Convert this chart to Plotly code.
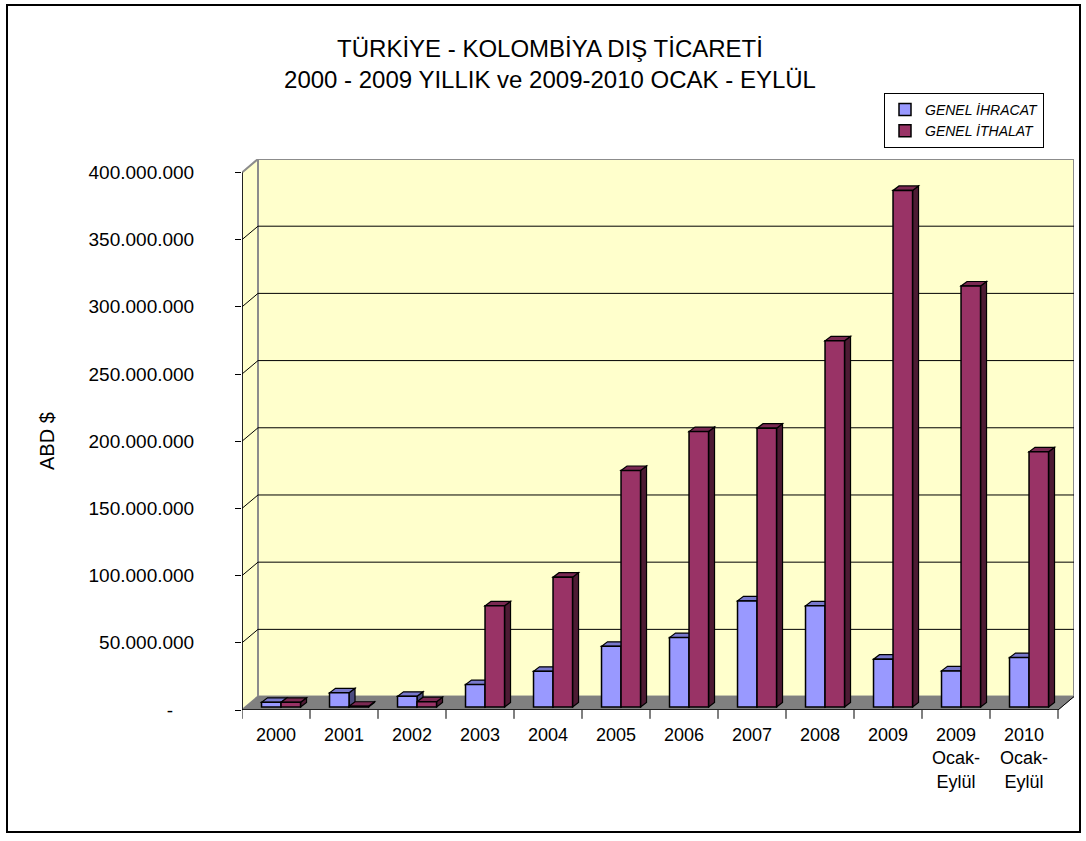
import plotly.graph_objects as go

# ---------------- data ----------------
categories = ["2000", "2001", "2002", "2003", "2004", "2005", "2006", "2007",
              "2008", "2009", "2009<br>Ocak-<br>Eylül", "2010<br>Ocak-<br>Eylül"]
ihracat = [3.5e6, 10.6e6, 8.0e6, 16.7e6, 26.6e6, 45.2e6, 51.7e6, 79.0e6,
           75.3e6, 35.6e6, 26.9e6, 36.8e6]
ithalat = [3.5e6, 0.6e6, 4.0e6, 75.3e6, 96.6e6, 176.0e6, 205.0e6, 207.5e6,
           272.5e6, 384.4e6, 313.3e6, 189.9e6]
series_names = ["GENEL İHRACAT", "GENEL İTHALAT"]
tick_values = [0, 50e6, 100e6, 150e6, 200e6, 250e6, 300e6, 350e6, 400e6]
tick_labels = ["-\u00a0\u00a0\u00a0\u00a0", "50.000.000", "100.000.000", "150.000.000",
               "200.000.000", "250.000.000", "300.000.000", "350.000.000", "400.000.000"]
title_lines = ["TÜRKİYE - KOLOMBİYA DIŞ TİCARETİ",
               "2000 - 2009 YILLIK ve 2009-2010 OCAK - EYLÜL"]

# ---------------- styling / geometry ----------------
FONT = "Liberation Sans, Arial, sans-serif"
front_colors = ["#9999FF", "#993366"]
top_colors = ["#7878CC", "#7A2952"]
side_colors = ["#4D4D80", "#4D1A33"]
WALL = "#FFFFCC"
FLOOR = "#808080"
EDGE = "#8C8C8C"

n = len(categories)
xs = list(range(n))
DX = 16 / 68.0          # wall depth, x units
DY = 10e6               # wall depth, y units
BASE = 2.2e6            # bars sit a bit back on the floor
W = 0.287               # bar width
OFFS = [-0.213, -0.213 + W]
SDX = 0.088             # bar depth, x units
SDY = 3.35e6            # bar depth, y units
YMAX = tick_values[-1]
XL, XR = -0.5, n - 0.5

fig = go.Figure()
series = [ihracat, ithalat]
for i, vals in enumerate(series):
    fig.add_trace(go.Bar(
        x=xs, y=vals, base=BASE, width=W, offset=OFFS[i], name=series_names[i],
        marker=dict(color=front_colors[i], line=dict(color="black", width=1.5)),
    ))

shapes = []
def path(pts):
    return "M " + " L ".join(f"{x},{y}" for x, y in pts) + " Z"

# back wall
shapes.append(dict(type="rect", xref="x", yref="y", x0=XL + DX, x1=XR + DX, y0=DY, y1=YMAX + DY,
                   fillcolor=WALL, line=dict(color=EDGE, width=2), layer="between"))
# left wall
shapes.append(dict(type="path", xref="x", yref="y",
                   path=path([(XL, 0), (XL, YMAX), (XL + DX, YMAX + DY), (XL + DX, DY)]),
                   fillcolor=WALL, line=dict(color=EDGE, width=2), layer="between"))
# floor
shapes.append(dict(type="path", xref="x", yref="y",
                   path=path([(XL, 0), (XR, 0), (XR + DX, DY), (XL + DX, DY)]),
                   fillcolor=FLOOR, line=dict(color=FLOOR, width=1), layer="between"))
# gridlines on back & left walls
for tv in tick_values[1:-1]:
    shapes.append(dict(type="line", xref="x", yref="y", x0=XL + DX, x1=XR + DX, y0=tv + DY, y1=tv + DY,
                       line=dict(color="black", width=1), layer="between"))
    shapes.append(dict(type="line", xref="x", yref="y", x0=XL, x1=XL + DX, y0=tv, y1=tv + DY,
                       line=dict(color="black", width=1), layer="between"))
# front value axis line and floor front edges
shapes.append(dict(type="line", xref="x", yref="y", x0=XL, x1=XL, y0=0, y1=YMAX,
                   line=dict(color="black", width=1.5), layer="between"))
shapes.append(dict(type="line", xref="x", yref="y", x0=XL, x1=XR, y0=0, y1=0,
                   line=dict(color="black", width=1.5), layer="between"))
shapes.append(dict(type="line", xref="x", yref="y", x0=XR, x1=XR + DX, y0=0, y1=DY,
                   line=dict(color="black", width=1), layer="between"))
# category boundary ticks
for k in range(n + 1):
    shapes.append(dict(type="line", xref="x", yref="paper", x0=k - 0.5, x1=k - 0.5, y0=0, y1=-0.016,
                       line=dict(color="black", width=1), layer="between"))
# 3D faces of bars (tops and right sides)
for i, vals in enumerate(series):
    for x, v in zip(xs, vals):
        x0 = x + OFFS[i]
        x1 = x0 + W
        top = BASE + v
        shapes.append(dict(type="path", xref="x", yref="y",
                           path=path([(x1, BASE), (x1 + SDX, BASE + SDY), (x1 + SDX, top + SDY), (x1, top)]),
                           fillcolor=side_colors[i], line=dict(color="black", width=1.2), layer="between"))
        shapes.append(dict(type="path", xref="x", yref="y",
                           path=path([(x0, top), (x1, top), (x1 + SDX, top + SDY), (x0 + SDX, top + SDY)]),
                           fillcolor=top_colors[i], line=dict(color="black", width=1.2), layer="between"))
# outer frame
shapes.append(dict(type="rect", xref="paper", yref="paper",
                   x0=(7 - 242) / 832, x1=(1080 - 242) / 832,
                   y0=(710 - 832) / 551, y1=(710 - 5) / 551,
                   line=dict(color="black", width=2), fillcolor="rgba(0,0,0,0)", layer="above"))

fig.update_layout(
    width=1086, height=841,
    margin=dict(l=242, r=12, t=159, b=131),
    paper_bgcolor="white", plot_bgcolor="white",
    font=dict(family=FONT, color="black"),
    barmode="overlay",
    showlegend=True,
    shapes=shapes,
    title=dict(text="<br>".join(title_lines), x=550 / 1086, xanchor="center",
               y=1 - 57 / 841, yanchor="middle", xref="container", yref="container",
               font=dict(family=FONT, size=24, color="black")),
    legend=dict(x=(884 - 242) / 832, y=(710 - 93) / 551, xanchor="left", yanchor="top",
                bgcolor="white", bordercolor="black", borderwidth=1,
                font=dict(family=FONT, size=14, style="italic", color="black"),
                tracegroupgap=0, itemwidth=30),
    xaxis=dict(range=[XL, XR + DX], tickmode="array", tickvals=xs, ticktext=categories,
               ticks="", showgrid=False, zeroline=False, showline=False,
               tickfont=dict(family=FONT, size=18), ticklabelstandoff=12, fixedrange=True),
    yaxis=dict(range=[0, YMAX + DY], tickmode="array", tickvals=tick_values, ticktext=tick_labels,
               ticks="outside", ticklen=6, tickcolor="black", tickwidth=1,
               showgrid=False, zeroline=False, showline=False,
               tickfont=dict(family=FONT, size=19), ticklabelstandoff=37, fixedrange=True),
    annotations=[dict(text="ABD $", xref="paper", yref="paper", x=(47 - 242) / 832, y=(710 - 441) / 551,
                      xanchor="center", yanchor="middle", textangle=-90, showarrow=False,
                      font=dict(family=FONT, size=20, color="black"))],
)

fig.write_html("out.html", config={"displayModeBar": False},
               post_script="document.body.style.margin='0';document.body.style.overflow='hidden';")
